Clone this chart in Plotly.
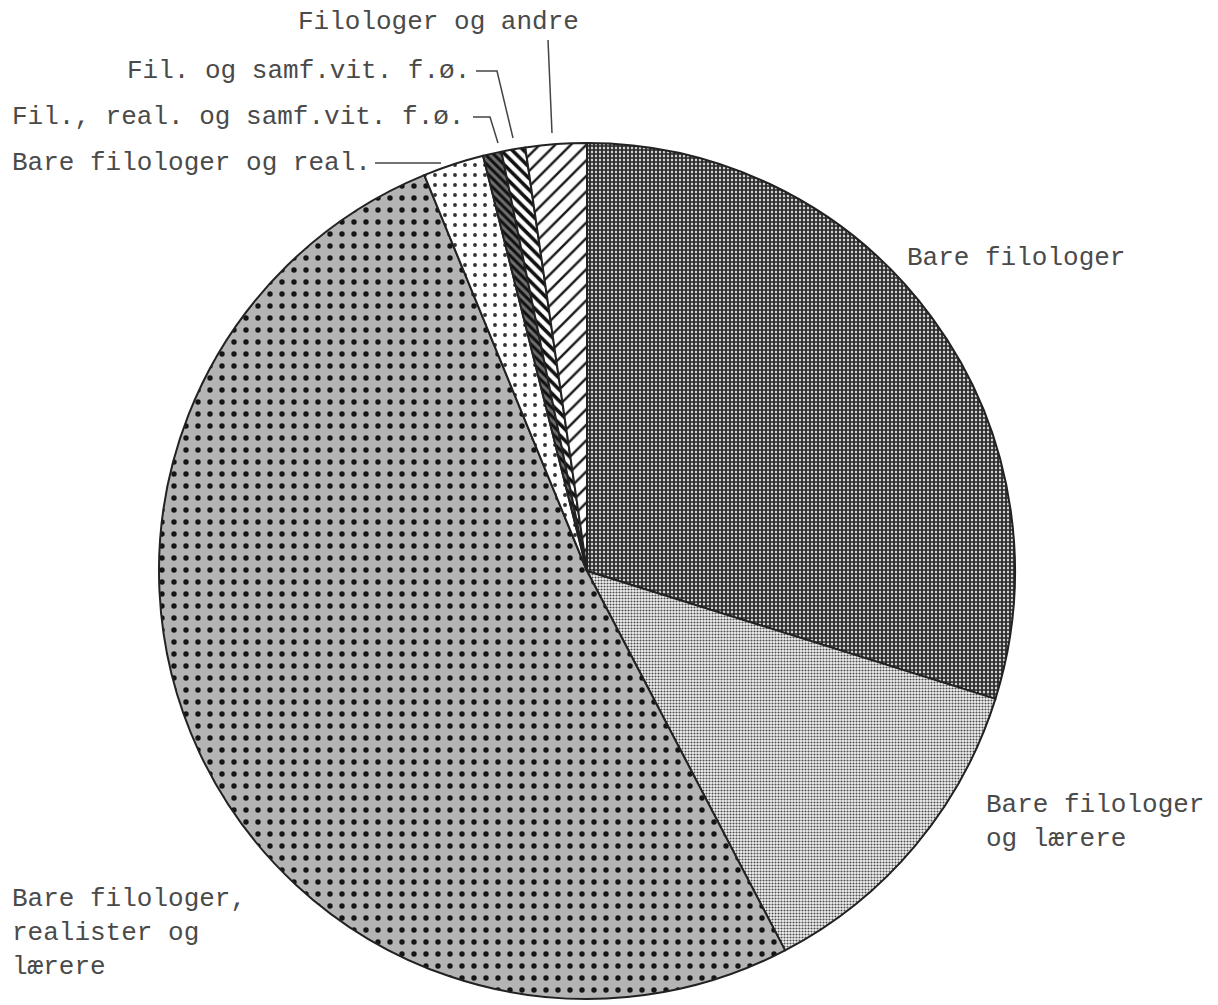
"""
Pie chart: composition of the staff groups (typewriter-style reproduction).
"""

from __future__ import annotations

import plotly.graph_objects as go

W, H = 1218, 1005

# Slices clockwise from 12 o'clock, shares in percent
LABELS = [
    "Bare filologer",
    "Bare filologer og lærere",
    "Bare filologer, realister og lærere",
    "Bare filologer og real.",
    "Fil., real. og samf.vit. f.ø.",
    "Fil. og samf.vit. f.ø.",
    "Filologer og andre",
]
SHARES = [29.8, 12.5, 51.4, 2.3, 0.7, 0.9, 2.3]

# Pattern per slice, imitating the printed hatchings
PATTERN_SHAPES = ["+", ".", ".", ".", "\\", "\\", "/"]
PATTERN_FG = ["#262626", "#4d4d4d", "#151515", "#333333", "#111111", "#111111", "#1a1a1a"]
PATTERN_BG = ["#d0d0d0", "#f4f4f4", "#b4b4b4", "#ffffff", "#6e6e6e", "#ffffff", "#ffffff"]
PATTERN_SIZE = [4, 3, 12, 10, 6, 8, 11]
PATTERN_SOLIDITY = [0.68, 0.38, 0.16, 0.12, 0.5, 0.45, 0.22]

TEXT_FONT = {"family": "Liberation Mono, Courier New, monospace", "size": 26, "color": "#4a4a4a"}


def px(x: float) -> float:
    return x / W


def py(y: float) -> float:
    return 1 - y / H


fig = go.Figure(
    go.Pie(
        labels=LABELS,
        values=SHARES,
        sort=False,
        direction="clockwise",
        rotation=0,
        textinfo="none",
        hovertemplate="%{label}<br>%{percent}<extra></extra>",
        domain={"x": [px(159), px(1015)], "y": [py(999), py(143)]},
        marker={
            "colors": PATTERN_BG,
            "line": {"color": "#222222", "width": 2},
            "pattern": {
                "shape": PATTERN_SHAPES,
                "fgcolor": PATTERN_FG,
                "bgcolor": PATTERN_BG,
                "size": PATTERN_SIZE,
                "solidity": PATTERN_SOLIDITY,
            },
        },
    )
)

# Label text placed around the pie
label_specs = [
    ("Filologer og andre", 581, 22, "right"),
    ("Fil. og samf.vit. f.ø.", 472, 71, "right"),
    ("Fil., real. og samf.vit. f.ø.", 10, 117, "left"),
    ("Bare filologer og real.", 10, 163, "left"),
    ("Bare filologer", 905, 258, "left"),
    ("Bare filologer<br>og lærere", 984, 822, "left"),
    ("Bare filologer,<br>realister og<br>lærere", 10, 933, "left"),
]
for text, x, y, anchor in label_specs:
    fig.add_annotation(
        text=text,
        x=px(x),
        y=py(y),
        xref="paper",
        yref="paper",
        xanchor=anchor,
        yanchor="middle",
        align="left",
        showarrow=False,
        font=TEXT_FONT,
    )

# Leader lines from the small-slice labels down to the pie
leaders = [
    [(548, 40), (552, 133)],
    [(476, 71), (497, 71), (513, 138)],
    [(473, 117), (490, 117), (498, 143)],
    [(375, 163), (441, 163)],
]
for pts in leaders:
    path = "M " + " L ".join(f"{px(x):.5f},{py(y):.5f}" for x, y in pts)
    fig.add_shape(
        type="path",
        path=path,
        xref="paper",
        yref="paper",
        line={"color": "#444444", "width": 1.5},
    )

fig.update_layout(
    width=W,
    height=H,
    margin={"l": 0, "r": 0, "t": 0, "b": 0},
    showlegend=False,
    paper_bgcolor="white",
    plot_bgcolor="white",
)

# drop the browser's default body margin so the figure sits at the page origin
fig.write_html(
    "out.html",
    config={"displayModeBar": False},
    post_script="document.body.style.margin='0';",
)
